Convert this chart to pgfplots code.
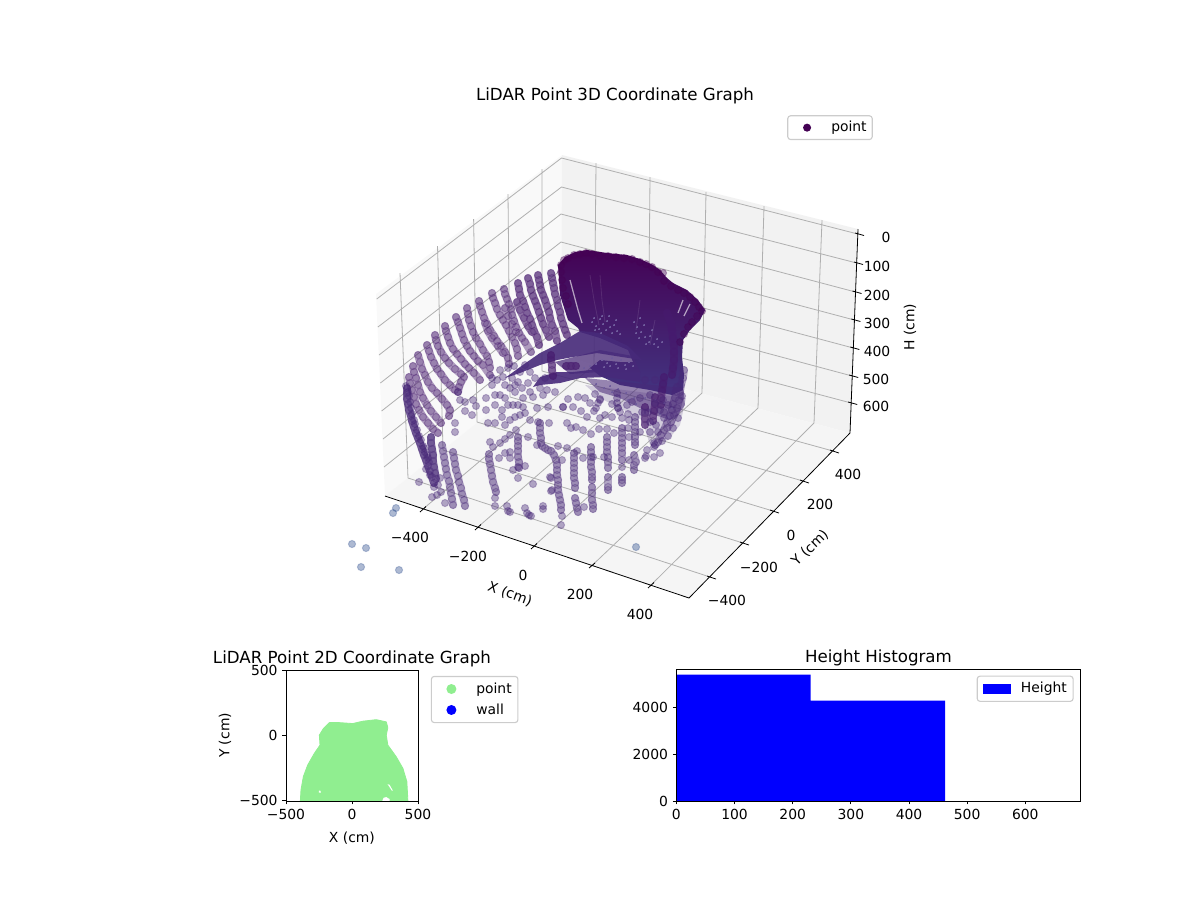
\documentclass[border=0pt]{standalone}
\usepackage{fontspec}
\setmainfont{DejaVu Sans}
\usepackage{pgfplots}
\pgfplotsset{compat=1.18}
\definecolor{ca}{HTML}{440154}
\definecolor{cb}{HTML}{471A6E}
\definecolor{cc}{HTML}{482878}
\definecolor{cd}{HTML}{3F3F88}
\definecolor{ce}{HTML}{31508F}
\definecolor{lg}{HTML}{90EE90}
\definecolor{sp}{HTML}{6F5C9C}
\pgfplotsset{
  dots/.style={only marks, mark=*, mark size=2.6pt, mark options={solid, fill=#1, draw=#1, fill opacity=.4, draw opacity=.3, line width=.7pt}},
  band/.style 2 args={forget plot, color=#1, line width=5.6pt, line cap=round, line join=round, draw opacity=#2, mark=*, mark size=2.6pt, mark options={solid, fill=#1, draw=#1, fill opacity=.2, draw opacity=.3, line width=.7pt}},
  dotlegend/.style 2 args={legend image code/.code={\path (0pt,0pt) (24pt,0pt); \fill[fill=#1, draw=none, fill opacity=1] (11.5pt,0pt) circle (#2);}},
  lgd/.style={draw=black!20, rounded corners=2pt, fill=white, fill opacity=.8, text opacity=1, draw opacity=1, font=\fontsize{10}{12}\selectfont, line width=.8pt, inner sep=2.5pt, row sep=2pt, cells={anchor=west}},
  small panel/.style={scale only axis, anchor=south west, tick align=outside, tick pos=left, major tick length=2.52pt, axis on top,
    tick style={black, line width=.58pt}, axis line style={line width=.58pt},
    every tick label/.style={font=\fontsize{10}{12}\selectfont}, label style={font=\fontsize{10}{12}\selectfont},
    title style={font=\fontsize{12}{14}\selectfont, yshift=-7pt},
    xlabel style={yshift=-2pt}, ylabel style={yshift=-1pt}}
}
\begin{document}
\begin{tikzpicture}
\path[use as bounding box] (0,0) rectangle (864pt,648pt);
% ---------- perspective 3D panel, in the picture's own pixel coordinates
\begin{axis}[at={(0,0)}, anchor=south west, scale only axis, width=864pt, height=648pt, xmin=0, xmax=1200, ymin=0, ymax=900, y dir=reverse, axis lines=none, clip=false,
  unbounded coords=jump,
  legend style={lgd, row sep=0pt, inner sep=2pt, at={(0.656,0.872)}, anchor=north west}]
% panes
\addplot[fill=black!2.5, draw=none, forget plot] coordinates {(376,294)(562,155)(561,356)(385,496)} --cycle;
\addplot[fill=black!5, draw=none, forget plot] coordinates {(562,155)(858,229)(850,433)(561,356)} --cycle;
\addplot[fill=black!3.75, draw=none, forget plot] coordinates {(385,496)(561,356)(850,433)(689,598)} --cycle;
% grid
\addplot[color=black!31, line width=.58pt, forget plot] coordinates {
(400,273)(408,478)(0,nan)(437.5,246)(443,450)(0,nan)(473.6,219)(477,422)(0,nan)(508,194)(510,397)(0,nan)(542,169)(542,371)(0,nan)
(376.7,299)(561.5,158)(0,nan)(377.9,327)(561.5,187)(0,nan)(379,355)(561,214)(0,nan)(380.4,383)(561,242)(0,nan)(381.6,411)(561,270)(0,nan)(383,439)(561,298)(0,nan)(384,467)(561,326)(0,nan)
(596,163)(594,365)(0,nan)(650,177)(648,379)(0,nan)(706,192)(702,393)(0,nan)(764,206)(758,408)(0,nan)(822,220)(814,423)(0,nan)
(561.5,158)(857.8,234)(0,nan)(561.5,187)(856.7,263)(0,nan)(561,214)(855.5,292)(0,nan)(561,242)(854.4,320)(0,nan)(561,270)(853.3,348)(0,nan)(561,298)(852.2,376)(0,nan)(561,326)(851.2,403)(0,nan)
(423,509)(594,365)(0,nan)(478,527)(648,379)(0,nan)(534,546)(702,393)(0,nan)(592,565.5)(758,408)(0,nan)(651,585)(814,423)(0,nan)
(408,478)(710,577)(0,nan)(443,450)(743,543)(0,nan)(477,422)(773,511)(0,nan)(510,397)(803,481)(0,nan)(542,371)(833,451)};
% axis lines and ticks
\addplot[black, line width=.58pt, forget plot] coordinates {(385,496)(689,598)(850,433)(858,229)(0,nan)
(426,506.5)(420,512)(0,nan)(481,524.5)(475,530)(0,nan)(537,543.5)(531,549)(0,nan)(595,563)(589,568)(0,nan)(654,582.5)(648,588)(0,nan)
(707,576)(716,579)(0,nan)(740,542)(749,545)(0,nan)(770,510)(779,513)(0,nan)(800,480)(809,483)(0,nan)(830,450)(839,453)(0,nan)
(855,233)(864,235.5)(0,nan)(854,262)(863,264.5)(0,nan)(852.5,291)(861.5,293.5)(0,nan)(851.4,319)(860.4,321.5)(0,nan)(850.3,347)(859.3,349.5)(0,nan)(849.2,375)(858.2,377.5)(0,nan)(848.2,402)(857.2,404.5)};
% dense masses of points
\addplot[draw=none, top color=ca!96!cc, bottom color=cd!55!cc, forget plot] coordinates {(558,265)(565,257)(575,252)(587,250)(607,253)(627,255)(640,259)(653,265)(660,270)(667,278)(673,283)(687,290)(698,300)(705,310)(700,320)(690,330)(683,340)(682,357)(684,375)(683,390)(672,395)(650,390)(620,385)(600,376)(590,368)(600,360)(620,362)(633,362)(628,350)(600,338)(580,332)(578,328)(568,320)(560,295)} --cycle;
\addplot[fill=cc, draw=none, fill opacity=.72, forget plot] coordinates {(555,362)(600,350)(633,356)(640,372)(600,372)(570,374)} --cycle;
\addplot[fill=cc!90!cd, draw=none, fill opacity=.9, forget plot] coordinates {(505,378)(520,367)(540,353)(560,343)(580,331)(600,333)(628,346)(642,360)(622,357)(597,353)(573,357)(557,360)(540,365)(520,373)} --cycle;
\addplot[fill=cc!90!cd, draw=none, fill opacity=.9, forget plot] coordinates {(533,387)(540,377)(557,372)(573,372)(607,368)(640,372)(640,382)(607,377)(580,378)(560,383)(540,385)} --cycle;
\addplot[fill=cc, draw=none, fill opacity=.55, forget plot] coordinates {(585,378)(683,388)(685,405)(678,415)(670,420)(655,415)(640,408)(620,398)(600,392)} --cycle;
\addplot[fill=cc, draw=none, fill opacity=.2, forget plot] coordinates {(585,385)(686,398)(680,425)(668,440)(650,445)(642,420)(620,408)(600,398)} --cycle;
% gaps between the rays of the fan
\addplot[white, line width=.9pt, opacity=.6, forget plot] coordinates {(570,280)(574,295)(578,310)(582,323)(0,nan)(683,300)(678,313)(0,nan)(690,304)(684,316)};
\addplot[white, line width=.6pt, opacity=.1, forget plot] coordinates {(590,275)(594,300)(599,325)(0,nan)(600,275)(602,300)(605,322)(0,nan)(640,300)(636,330)(0,nan)(655,320)(650,345)};
\addplot[only marks, color=sp, mark=*, mark size=.6pt, mark options={fill=sp, draw=sp, line width=0pt}, forget plot] coordinates {
(592,322)(596,326)(600,319)(603,324)(607,321)(610,327)(614,325)(617,331)(599,329)(606,330)(612,333)(620,334)(594,318)(602,316)(595,330)(601,333)(609,316)(616,320)
(634,322)(637,327)(640,318)(636,333)(641,332)(645,337)(649,342)(654,344)(658,347)(662,342)(644,325)(650,336)(657,339)(639,338)(646,344)(652,330)
(602,360)(607,363)(612,358)(616,364)(621,360)(625,365)(629,362)(610,366)(618,368)(604,367)(626,369)(633,366)(596,364)(590,366)(584,368)
(596,384)(604,388)(612,392)(620,396)(628,400)(636,404)(610,386)(618,389)(626,393)(634,398)(645,398)(655,400)(664,403)(672,408)(650,410)(660,414)(668,417)};
% scalloped edge of the fan
\addplot[dots=ca, forget plot] coordinates {(561,265)(564,260)(568,258)(574,255)(580,254)(586,253)(592,254)(600,256)(608,256)(616,257)(624,258)(632,259)(640,262)(646,264)(652,267)(658,272)(663,273)(664,281)(671,286)(678,290)(684,293)(690,297)(695,302)(699,307)(702,311)(697,316)(692,322)(688,327)(684,334)(680,342)(561,272)(562,280)(563,288)(566,296)(568,304)};
\addplot[band={cb}{.6}] coordinates {(667,313)(669,318)(671,323)(672,330)(673,338)(674,345)(674,352)(674,360)(673,368)(672,375)(0,nan)
(664,377)(663,384)(662,391)(661,398)(661,405)(0,nan)(655,397)(655,404)(654,411)(653,416)(653,421)(0,nan)(645,407)(645,413)(645,419)(645,425)(0,nan)(551,355)(551,360)(552,365)(552,370)(553,376)(0,nan)(566,366)(571,366)(576,366)};
% arcs of the upper rows
\addplot[band={cb}{.6}] coordinates {
(551,273)(552,278)(553,283)(554,288)(555,294)(557,300)(558,306)(560,312)(561,318)(563,324)(565,330)(567,335)(0,nan)
(538,275)(539,280)(540,285)(541,290)(543,295)(545,300)(547,306)(549,312)(550,318)(552,325)(555,331)(557,341)(0,nan)
(528,278)(530,284)(531,290)(533,296)(535,301)(537,306)(539,312)(541,318)(543,324)(546,330)(549,337)(0,nan)
(518,283)(519,289)(520,295)(523,301)(525,307)(527,313)(530,319)(532,325)(534,331)(537,337)(539,345)(0,nan)
(517,302)(520,310)(524,318)(528,326)(532,332)};
\addplot[band={cb}{.42}] coordinates {
(504,289)(505,294)(507,299)(509,304)(511,309)(512,315)(514,321)(516,327)(519,333)(522,338)(525,342)(531,352)(0,nan)
(492,293)(493,298)(495,303)(497,309)(500,315)(503,320)(506,325)(509,331)(512,337)(515,343)(517,349)(518,356)(0,nan)
(479,301)(480,306)(482,312)(484,318)(487,324)(490,330)(494,336)(497,341)(501,346)(505,352)(508,358)(509,364)(0,nan)
(467,308)(468,314)(469,320)(471,326)(473,332)(476,338)(480,344)(483,350)(487,356)(489,362)(490,368)(0,nan)
(456,317)(458,322)(460,328)(462,334)(464,340)(467,346)(470,351)(474,356)(478,361)(483,365)(490,375)(0,nan)
(445,326)(446,331)(448,337)(450,343)(453,349)(457,354)(461,359)(465,364)(469,368)(474,373)(480,380)(0,nan)
(435,335)(436,340)(438,346)(441,352)(445,358)(449,363)(455,369)(461,374)(464,377)(461,382)(459,387)(458,392)(0,nan)
(427,345)(429,351)(431,357)(434,363)(437,369)(441,374)(445,380)(450,385)(455,390)(0,nan)
(418,355)(420,362)(422,369)(425,375)(428,382)(432,388)(437,393)(442,399)(447,405)(450,410)(449,416)(0,nan)
(413,366)(414,372)(416,378)(418,385)(420,392)(423,398)(427,405)(431,411)(436,417)(441,423)(0,nan)
(409,377)(410,383)(412,390)(414,397)(416,404)(419,410)(423,417)(428,423)(433,429)(438,433)(0,nan)
(505,308)(508,316)(512,324)(516,332)(0,nan)(485,323)(488,331)(492,338)(498,346)(503,353)};
% dense band at the left and the lower columns
\addplot[band={cc}{.7}] coordinates {
(407,388)(407,393)(407,399)(408,404)(409,410)(411,416)(412,421)(414,427)(416,433)(418,438)(420,443)(422,449)(424,455)(426,460)(428,466)(430,471)(432,477)(434,483)(0,nan)(431,437)(431,443)(432,449)(433,455)(433,461)(434,467)(435,473)(436,479)};
\addplot[band={cc}{.38}] coordinates {
(442,445)(443,451)(444,457)(445,463)(446,469)(447,475)(449,481)(450,487)(451,493)(452,499)(453,505)(0,nan)
(453,452)(454,458)(455,464)(456,470)(458,476)(459,482)(461,488)(462,494)(464,500)(465,506)(0,nan)
(489,454)(489,459)(490,464)(491,470)(492,476)(493,482)(495,488)(496,492)(0,nan)
(518,437)(518,441)(518,446)(518,451)(518,457)(519,462)(519,468)(0,nan)
(540,423)(540,428)(540,433)(541,438)(541,443)(542,446)(545,448)(548,450)(551,451)(554,455)(556,460)(557,465)(557,470)(557,475)(558,480)(558,485)(558,490)(559,495)(560,500)(561,505)(561,510)(0,nan)
(574,453)(574,458)(574,463)(574,468)(574,473)(574,478)(575,483)(575,488)(0,nan)(575,498)(576,503)(577,508)(578,512)(0,nan)
(591,447)(591,452)(591,457)(591,462)(591,467)(592,472)(592,477)(592,480)(0,nan)(592,487)(592,493)(592,500)(593,505)(593,509)(0,nan)
(607,437)(607,442)(607,447)(607,452)(608,457)(608,462)(608,468)(0,nan)(608,477)(608,487)(608,490)(0,nan)
(622,428)(622,433)(622,438)(622,443)(622,448)(622,453)(622,460)(0,nan)(622,477)(622,480)(622,483)(0,nan)
(635,417)(635,422)(635,427)(635,432)(635,437)(635,442)(635,445)(0,nan)(634,455)(636,462)(634,465)(634,470)(0,nan)
(677,387)(676,392)(675,398)(673,404)(672,410)(670,416)(667,423)(664,430)(661,435)(658,442)(655,445)(0,nan)
(684,370)(683,378)(681,385)(680,392)(679,400)(677,408)(674,415)(671,422)(667,428)};
% single points
\addplot[dots=cc, forget plot] coordinates {
(406,386)(409,396)(411,408)(414,420)(417,430)(421,440)(424,448)(427,455)(429,462)(408,392)(410,402)(412,414)(415,424)(419,436)(423,446)(425,452)(428,458)
(430,475)(434,487)(437,495)(441,492)(445,503)(438,485)(440,478)(518,478)(562,516)(645,458)(646,456)(654,443)(654,447)(682,396)(650,395)(655,403)(660,410)(664,418)(640,398)(632,402)(648,412)(656,425)(600,399)(598,403)(596,408)(594,411)(617,393)(617,398)(617,403)(618,408)(620,412)(645,380)(655,380)(663,400)
(668,405)(664,412)(668,436)(662,441)(673,428)(678,418)(650,432)(658,432)(650,422)(640,432)(628,428)(642,412)(628,414)
(458,392)(460,400)(465,402)(473,400)(465,411)(472,415)(476,406)(486,410)(486,398)(495,405)(495,395)(500,395)(505,398)(502,410)(502,417)(505,425)(488,423)(495,423)(510,420)(515,417)(520,415)(525,413)(530,420)(538,422)(549,423)(567,423)(563,407)(548,407)(537,408)(543,395)(547,390)(555,392)(533,397)(523,398)(515,392)(510,388)(503,377)(497,380)(492,378)(508,405)(513,405)(518,405)(523,407)(455,423)(455,432)
(512,378)(518,382)(522,388)(528,383)(535,378)(530,372)(540,388)(520,372)(508,368)(525,365)(514,366)(500,370)(505,385)(530,392)(545,378)(515,385)(492,385)
(490,442)(493,447)(500,443)(505,439)(510,435)(516,430)(528,437)(537,445)(499,458)(505,453)(510,452)(510,458)(525,466)(513,470)(518,467)(533,484)(550,477)(552,490)(419,482)(432,497)(426,469)(495,498)(495,506)(507,506)(510,512)(525,508)(527,513)(531,516)(529,515)(543,506)(543,509)(561,525)(508,511)
(568,399)(578,397)(585,398)(590,403)(573,407)(563,407)(581,411)(587,417)(595,394)(600,400)(612,404)(605,415)(571,428)(576,427)(583,430)(591,434)(599,429)(607,429)(614,433)(629,437)(622,418)(629,420)(612,417)(600,418)(627,405)(618,408)(654,457)(660,453)(647,450)(629,460)(622,467)(593,457)(583,458)(604,457)(577,451)(567,448)(558,446)(562,460)(551,478)(551,491)(584,507)};
% lowest points
\addplot[dots=ce, forget plot] coordinates {(396,508)(393,513)(352,544)(366,548)(361,567)(399,570)(636,547)};
\addlegendimage{dotlegend={ca}{2.9pt}}
\addlegendentry{\hspace{2.5pt}point}
% texts of the 3D panel
\node[font=\fontsize{12}{14}\selectfont] at (axis cs:615,95.5) {LiDAR Point 3D Coordinate Graph};
\foreach \a/\b/\t in {410/537/−400,468/556/−200,523/575/0,580/594/200,640/614/400,727/600/−400,759/567/−200,791/535/0,820/504/200,848/474/400,886/237/0,877/266/100,877/295/200,877/323/300,877/351/400,876/379/500,876/406/600}{
  \edef\tmp{\noexpand\node[font=\noexpand\fontsize{10}{12}\noexpand\selectfont] at (axis cs:\a,\b) {\t};}\tmp}
\node[font=\fontsize{10}{12}\selectfont, rotate=-20] at (axis cs:510,594) {X (cm)};
\node[font=\fontsize{10}{12}\selectfont, rotate=44] at (axis cs:810,548) {Y (cm)};
\node[font=\fontsize{10}{12}\selectfont, rotate=90] at (axis cs:910,327) {H (cm)};
\end{axis}
% ---------- 2D panel
\begin{axis}[small panel, at={(205.9pt,71.3pt)}, width=95pt, height=94.3pt, xmin=-500, xmax=500, ymin=-505, ymax=505,
  xtick={-500,0,500}, xticklabels={−500,0,500}, ytick={-500,0,500}, yticklabels={−500,0,500},
  xlabel={X (cm)}, ylabel={Y (cm)}, title={LiDAR Point 2D Coordinate Graph},
  legend style={lgd, at={(1.098,0.955)}, anchor=north west}]
\addplot[fill=lg, draw=lg, line width=.6pt, line join=round, forget plot] coordinates {(-391,-505)(-386,-418)(-368,-316)(-335,-227)(-285,-138)(-242,-74)(-247,3)(-216,54)(-171,99)(-95,99)(6,92)(82,110)(184,122)(260,105)(272,61)(260,3)(272,-74)(335,-163)(386,-253)(416,-355)(424,-505)} --cycle;
\addplot[fill=white, draw=none, forget plot] coordinates {(-250,-425)(-240,-425)(-235,-440)(-250,-440)} --cycle;
\addplot[fill=white, draw=none, forget plot] coordinates {(270,-375)(285,-380)(310,-425)(302,-425)} --cycle;
\addplot[fill=white, draw=none, forget plot] coordinates {(230,-505)(240,-480)(260,-475)(285,-490)(285,-505)} --cycle;
\addlegendimage{dotlegend={lg}{3.6pt}}
\addlegendentry{\hspace{3pt}point}
\addlegendimage{dotlegend={blue}{3.6pt}}
\addlegendentry{\hspace{3pt}wall}
\end{axis}
% ---------- histogram
\begin{axis}[small panel, at={(487pt,71.3pt)}, width=291pt, height=95pt, xmin=0, xmax=695, ymin=0, ymax=5617,
  xtick={0,100,200,300,400,500,600}, ytick={0,2000,4000}, scaled ticks=false,
  yticklabel style={/pgf/number format/1000 sep=},
  /pgf/number format/assume math mode=true,
  title={Height Histogram},
  legend style={lgd, at={(0.983,0.95)}, anchor=north east},
  legend image code/.code={\path (0pt,0pt) (24pt,0pt); \fill[blue, fill opacity=1, sharp corners] (2pt,-3.6pt) rectangle (22pt,3.6pt);}]
\addplot[ybar interval, fill=blue, draw=none] coordinates {(0,5376)(231,4270)(462,0)};
\addlegendentry{\hspace{3pt}Height}
\end{axis}
\end{tikzpicture}
\end{document}
